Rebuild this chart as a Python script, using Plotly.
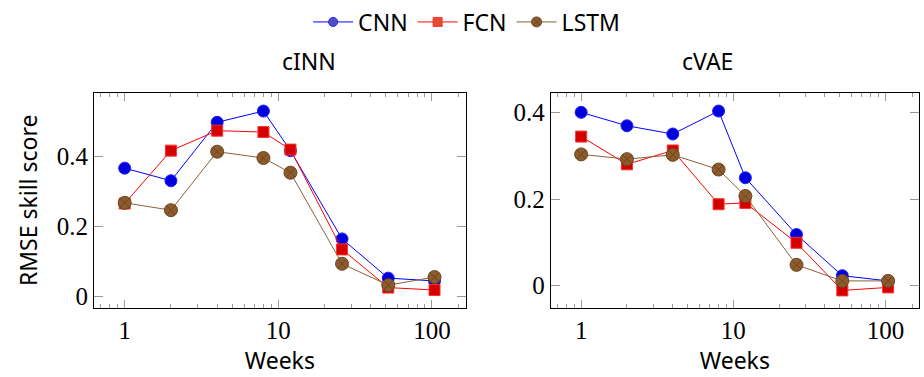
import plotly.graph_objects as go

weeks = [1, 2, 4, 8, 12, 26, 52, 104]

cinn_cnn = [0.367, 0.331, 0.498, 0.530, 0.417, 0.165, 0.053, 0.045]
cinn_fcn = [0.266, 0.417, 0.474, 0.470, 0.420, 0.135, 0.026, 0.019]
cinn_lstm = [0.268, 0.247, 0.414, 0.396, 0.354, 0.094, 0.033, 0.056]

cvae_cnn = [0.400, 0.369, 0.350, 0.403, 0.249, 0.118, 0.023, 0.011]
cvae_fcn = [0.344, 0.280, 0.312, 0.188, 0.191, 0.099, -0.011, -0.004]
cvae_lstm = [0.303, 0.292, 0.302, 0.268, 0.207, 0.048, 0.011, 0.011]

series_names = ["CNN", "FCN", "LSTM"]
panel_titles = ["cINN", "cVAE"]
x_ticks = [1, 10, 100]
x_ticklabels = ["1", "10", "100"]
y_ticks = [0, 0.2, 0.4]
y_ticklabels = ["0", "0.2", "0.4"]

SANS = "Noto Sans"
SERIF = "Liberation Serif"
FS = 23
TFS = 25
styles = {
    "CNN": dict(line=dict(color="#0000ff", width=1),
                marker=dict(symbol="circle", size=12, color="#0000dd",
                            line=dict(color="#2020ff", width=1))),
    "FCN": dict(line=dict(color="#ff0000", width=1),
                marker=dict(symbol="square", size=11, color="#d40000",
                            line=dict(color="#ff3030", width=1))),
    "LSTM": dict(line=dict(color="#8c6239", width=1),
                 marker=dict(symbol="circle-x", size=13, color="#8e5c2c",
                             line=dict(color="#6b4520", width=1))),
}
legend_marker = {
    "CNN": dict(symbol="circle", size=9, color="#5050c0", line=dict(color="#2020ff", width=1)),
    "FCN": dict(symbol="square", size=9, color="#e05030", line=dict(color="#ff3030", width=1)),
    "LSTM": dict(symbol="circle-x", size=10, color="#8e5c2c", line=dict(color="#6b4520", width=1)),
}

fig = go.Figure()
data = [[cinn_cnn, cinn_fcn, cinn_lstm], [cvae_cnn, cvae_fcn, cvae_lstm]]
for p, panel in enumerate(data):
    for name, vals in zip(series_names, panel):
        fig.add_trace(go.Scatter(
            x=weeks, y=vals, mode="lines+markers", name=name,
            showlegend=False, legendgroup=name,
            xaxis="x" if p == 0 else "x2", yaxis="y" if p == 0 else "y2",
            **styles[name]))
# legend entries (smaller legend markers, like the reference)
for name in series_names:
    fig.add_trace(go.Scatter(x=[None], y=[None], mode="lines+markers", name=name,
                             legendgroup=name, line=styles[name]["line"],
                             marker=legend_marker[name]))

minor_vals = [0.7, 0.8, 0.9] + [i for i in range(2, 10)] + [i * 10 for i in range(2, 10)] + [150]

def xaxis(domain, anchor):
    return dict(type="log", domain=domain, anchor=anchor, range=[-0.2, 2.22],
                tickvals=x_ticks, ticktext=x_ticklabels,
                ticks="inside", ticklen=8, tickcolor="#999999", tickwidth=1,
                minor=dict(tickvals=minor_vals, ticks="inside", ticklen=4,
                           tickcolor="#999999", showgrid=False),
                showline=True, linecolor="black", linewidth=1, mirror="ticks",
                showgrid=False, zeroline=False,
                tickfont=dict(family=SERIF, size=TFS, color="black"),
                title=dict(text="Weeks", font=dict(family=SANS, size=FS, color="black"), standoff=8))

def yaxis(domain, anchor, rng, title=None):
    d = dict(domain=domain, anchor=anchor, range=rng,
             tickvals=y_ticks, ticktext=y_ticklabels,
             ticks="inside", ticklen=9, tickcolor="#999999", tickwidth=1,
             showline=True, linecolor="black", linewidth=1, mirror="ticks",
             showgrid=False, zeroline=False,
             tickfont=dict(family=SERIF, size=TFS, color="black"))
    if title:
        d["title"] = dict(text=title, font=dict(family=SANS, size=FS, color="black"), standoff=12)
    return d

ydom = [0.180, 0.764]
fig.update_layout(
    width=924, height=377,
    margin=dict(l=0, r=0, t=0, b=0),
    paper_bgcolor="white", plot_bgcolor="white",
    xaxis=xaxis([0.1017, 0.504], "y"),
    yaxis=yaxis(ydom, "x", [-0.0316, 0.582], "RMSE skill score"),
    xaxis2=xaxis([0.596, 0.9946], "y2"),
    yaxis2=yaxis(ydom, "x2", [-0.051, 0.445]),
    legend=dict(orientation="h", x=0.505, xanchor="center", y=1.015, yanchor="top",
                font=dict(family=SANS, size=FS, color="black"),
                itemwidth=40, tracegroupgap=0, bgcolor="rgba(0,0,0,0)"),
    annotations=[
        dict(text=panel_titles[0], x=(0.1017 + 0.504) / 2, y=1 - 56 / 377, xref="paper", yref="paper",
             yanchor="middle", showarrow=False, font=dict(family=SANS, size=FS, color="black")),
        dict(text=panel_titles[1], x=(0.596 + 0.9946) / 2, y=1 - 56 / 377, xref="paper", yref="paper",
             yanchor="middle", showarrow=False, font=dict(family=SANS, size=FS, color="black")),
    ],
)

fig.write_html("out.html")
